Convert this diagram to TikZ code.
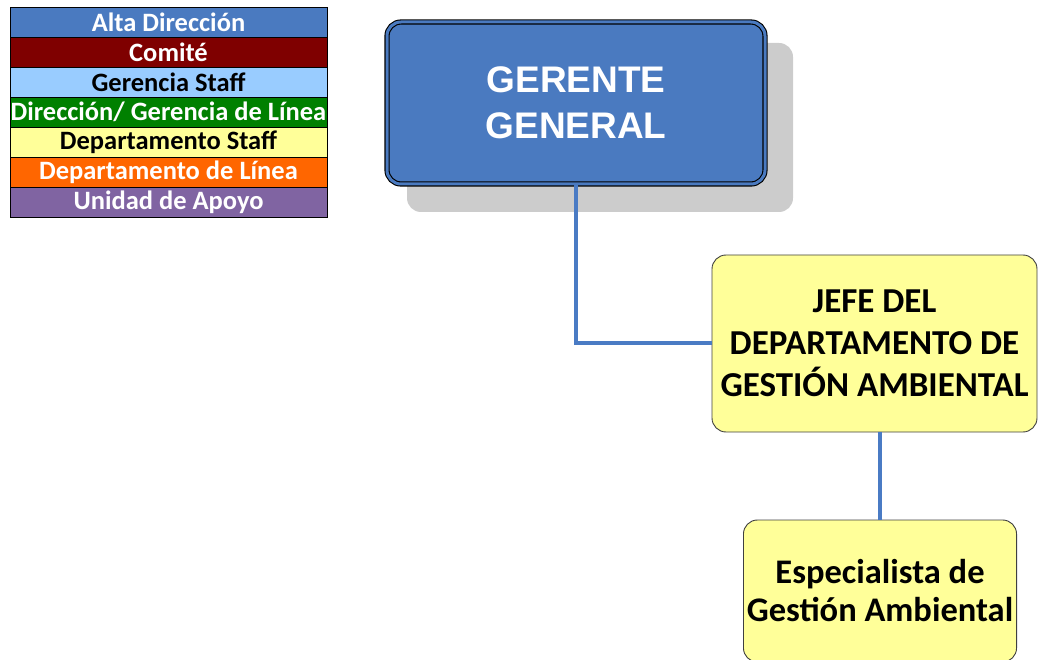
\documentclass[tikz,border=0pt]{standalone}
\usepackage{fontspec}
\setmainfont{Carlito}
\newfontfamily\arialfont{Liberation Sans}
\usetikzlibrary{calc,positioning}
\usepackage{xcolor}
\definecolor{altaBlue}{HTML}{4A7AC0}
\definecolor{comiteRed}{HTML}{7F0000}
\definecolor{staffBlue}{HTML}{99CCFF}
\definecolor{lineaGreen}{HTML}{008000}
\definecolor{staffYellow}{HTML}{FFFF99}
\definecolor{lineaOrange}{HTML}{FF6600}
\definecolor{apoyoPurple}{HTML}{8064A2}
\definecolor{linkBlue}{HTML}{4A7BC4}
\definecolor{shadowGray}{HTML}{CCCCCC}

\begin{document}
\begin{tikzpicture}[%
    x=1pt, y=-1pt,
    legend/.style={
      rectangle,
      draw=black,
      line width=0.6pt,
      minimum width=317pt,
      minimum height=30.1pt,
      inner sep=0pt,
      font=\fontsize{26.5}{28}\selectfont\bfseries
    },
    gerente/.style={
      rectangle,
      rounded corners=14pt,
      fill=altaBlue,
      draw=black,
      line width=1.1pt,
      double=altaBlue,
      double distance=3pt,
      text=white,
      align=center,
      minimum width=378pt,
      minimum height=162pt,
      font=\arialfont\fontsize{37}{46}\selectfont\bfseries
    },
    depto/.style={
      rectangle,
      rounded corners=14pt,
      fill=staffYellow,
      draw=black!75,
      line width=0.9pt,
      align=center,
      font=\fontsize{35}{42}\selectfont\bfseries
    },
    link/.style={
      draw=linkBlue,
      line width=4pt
    }
  ]
    \useasboundingbox (0,0) rectangle (1039,660);

    % Legend
    \draw (168.5, 22.0) node[legend, fill=altaBlue, text=white]       (alta)    {Alta Dirección}
          (168.5, 52.1) node[legend, fill=comiteRed, text=white]      (comite)  {Comité}
          (168.5, 82.2) node[legend, fill=staffBlue, text=black]      (gstaff)  {Gerencia Staff}
          (168.5,112.3) node[legend, fill=lineaGreen, text=white]     (glinea)  {Dirección/ Gerencia de Línea}
          (168.5,142.4) node[legend, fill=staffYellow, text=black]    (dstaff)  {Departamento Staff}
          (168.5,172.5) node[legend, fill=lineaOrange, text=white]    (dlinea)  {Departamento de Línea}
          (168.5,202.6) node[legend, fill=apoyoPurple, text=white]    (apoyo)   {Unidad de Apoyo};

    % Shadow of the top box
    \fill[shadowGray, rounded corners=14pt] (407,43) rectangle (793,212);

    % Boxes
    \draw (576,103) node[gerente] (GG) {GERENTE\\GENERAL}
          (874.5,343.5) node[depto, minimum width=325pt, minimum height=177pt] (JEFE)
                {JEFE DEL\\DEPARTAMENTO DE\\GESTIÓN AMBIENTAL}
          (880,591) node[depto, minimum width=272pt, minimum height=142pt,
                         font=\fontsize{34.5}{38}\selectfont\bfseries] (ESP)
                {Especialista de\\Gestión Ambiental};

    % Connectors
    \draw[link] (GG.south) |- (JEFE.west);
    \draw[link] (ESP.north) -- (ESP.north |- JEFE.south);
\end{tikzpicture}
\end{document}
